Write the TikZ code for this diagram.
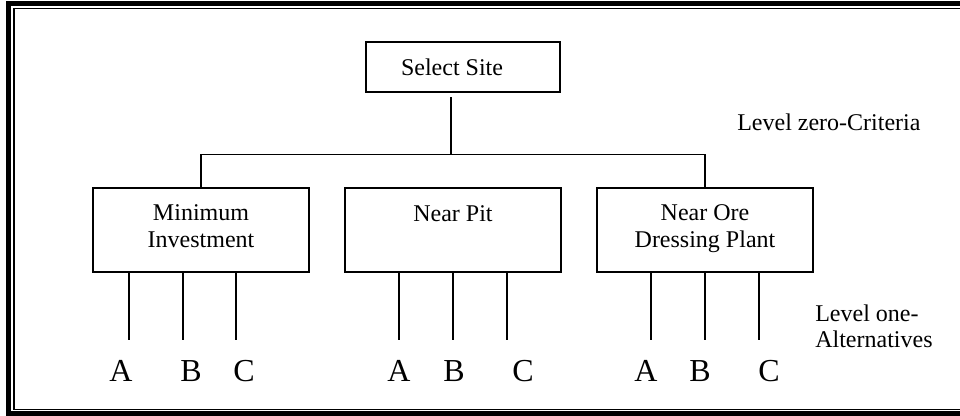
\documentclass[tikz,border=0pt]{standalone}
\usepackage{fontspec}
\setmainfont{Liberation Serif}
\begin{document}
\begin{tikzpicture}[x=0.75pt,y=-0.75pt,
  box/.style={draw, line width=1.5pt, inner sep=0pt, minimum width=162pt, minimum height=63pt},
  topbox/.style={draw, line width=1.5pt, inner sep=0pt, minimum width=145.5pt, minimum height=37.5pt},
  wire/.style={line width=1.1pt},
  txt/.style={inner sep=0pt, anchor=base, align=center, font=\fontsize{18}{20.5}\selectfont},
  side/.style={inner sep=0pt, anchor=base west, align=left, font=\fontsize{18}{19.5}\selectfont},
  leaf/.style={inner sep=0pt, anchor=base, font=\fontsize{24}{28}\selectfont}]
\useasboundingbox (0,0) rectangle (960,415);

% double frame, open on the right
\draw[line width=3.75pt] (8.5,3.5) rectangle (985,413);
\draw[line width=1.1pt] (14,8.5) rectangle (975,409.5);

% goal
\node[topbox] (site) at (463,67) {};
\node[txt] (sitetxt) at (452,75) {Select Site};

% criteria (multi-line texts are placed by the baseline of their last line)
\node[box] (mi) at (201,229.5) {};
\node[box] (pit) at (453,229.5) {};
\node[box] (ore) at (705,229.5) {};
\node[txt] (mitxt) at (201,247.5) {Minimum\\Investment};
\node[txt] (pittxt) at (453,221) {Near Pit};
\node[txt] (oretxt) at (705,247.5) {Near Ore\\Dressing Plant};

% goal to criteria
\coordinate (j) at (451,154.5);
\draw[wire] ([yshift=-3pt]site.south -| j) -- (j);
\draw[wire] (mi.north) |- (ore.north |- j) -- (ore.north);

% alternatives under each criterion
\foreach \b/\xa/\xb/\xc/\la/\lb/\lc in {mi/129/183/236/121/191/244, pit/399/453/507/399/454/523, ore/651/705/759/646/700/769}{
  \coordinate (\b-ea) at (\xa,340);
  \coordinate (\b-eb) at (\xb,340);
  \coordinate (\b-ec) at (\xc,340);
  \draw[wire] (\b.south -| \b-ea) -- (\b-ea);
  \draw[wire] (\b.south -| \b-eb) -- (\b-eb);
  \draw[wire] (\b.south -| \b-ec) -- (\b-ec);
  \node[leaf] (\b-a) at (\la,381) {A};
  \node[leaf] (\b-b) at (\lb,381) {B};
  \node[leaf] (\b-c) at (\lc,381) {C};
}

% level captions
\node[side] (lvl0) at (737,130) {Level zero-Criteria};
\node[side] (lvl1) at (815,347) {Level one-\\Alternatives};
\end{tikzpicture}
\end{document}
